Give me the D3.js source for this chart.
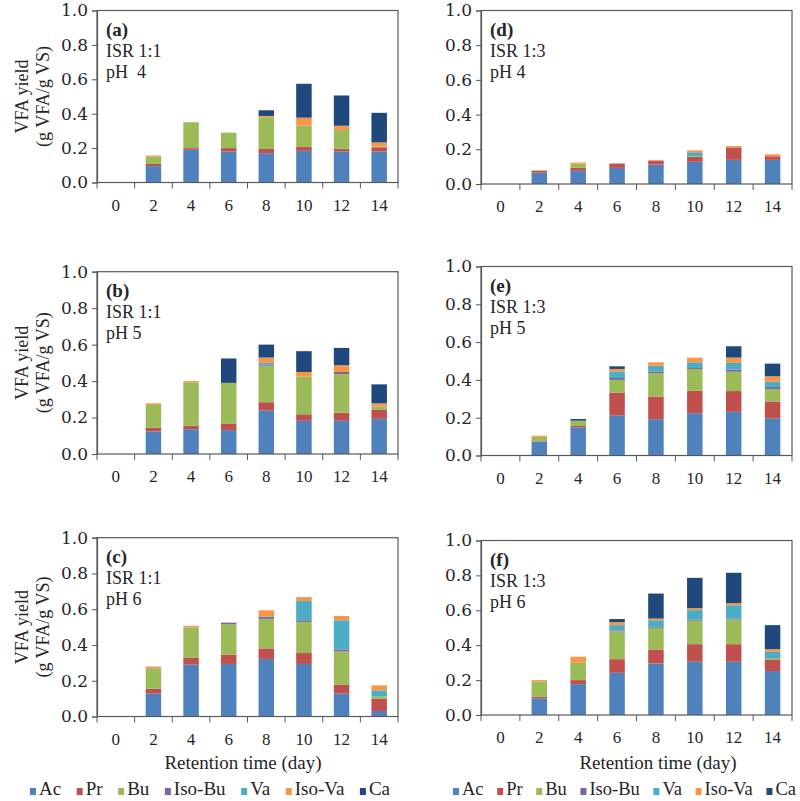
<!DOCTYPE html>
<html><head><meta charset="utf-8">
<script src="https://cdn.jsdelivr.net/npm/d3@7"></script>
<style>body{margin:0;background:#fff}svg{display:block}</style>
</head><body>
<svg id="chart" width="800" height="801"></svg>
<script>
// ---------- data ----------
const days = ["0","2","4","6","8","10","12","14"];
const seriesNames = ["Ac","Pr","Bu","Iso-Bu","Va","Iso-Va","Ca"];
const seriesColors = ["#4F81BD","#C0504D","#9BBB59","#8064A2","#4BACC6","#F79646","#1F497D"];
const yTicks = [0,0.2,0.4,0.6,0.8,1.0];
const panelTags = ["(a)","(b)","(c)","(d)","(e)","(f)"];
const isrLabels = ["ISR 1:1","ISR 1:1","ISR 1:1","ISR 1:3","ISR 1:3","ISR 1:3"];
const phLabels = ["pH  4","pH 5","pH 6","pH 4","pH 5","pH 6"];

// each panel: one row per series (Ac, Pr, Bu, Iso-Bu, Va, Iso-Va, Ca), one value per day
const panelA = [
  [0,0.095,0.19,0.18,0.17,0.184,0.18,0.18],
  [0,0.013,0.01,0.02,0.025,0.023,0.017,0.025],
  [0,0.042,0.15,0.09,0.185,0.123,0.108,0.005],
  [0,0,0,0,0,0,0,0],
  [0,0,0,0,0,0,0,0],
  [0,0.007,0.002,0,0.007,0.047,0.025,0.023],
  [0,0,0,0,0.033,0.197,0.176,0.172]
];
const panelB = [
  [0,0.124,0.136,0.131,0.238,0.182,0.182,0.193],
  [0,0.021,0.019,0.034,0.046,0.036,0.045,0.049],
  [0,0.124,0.238,0.225,0.20,0.206,0.211,0.018],
  [0,0,0,0,0.006,0,0.012,0],
  [0,0,0,0,0.01,0,0,0],
  [0,0.009,0.007,0,0.029,0.026,0.037,0.018],
  [0,0,0,0.134,0.071,0.114,0.095,0.104]
];
const panelC = [
  [0,0.128,0.29,0.294,0.322,0.294,0.128,0.031],
  [0,0.027,0.038,0.052,0.059,0.061,0.051,0.069],
  [0,0.115,0.17,0.17,0.165,0.174,0.185,0.013],
  [0,0,0,0.009,0.011,0.009,0.011,0],
  [0,0,0,0,0.003,0.108,0.163,0.033],
  [0,0.009,0.009,0,0.034,0.022,0.024,0.028],
  [0,0,0,0,0,0,0,0]
];
const panelD = [
  [0,0.065,0.076,0.093,0.112,0.128,0.139,0.139],
  [0,0.011,0.017,0.025,0.023,0.028,0.071,0.021],
  [0,0,0.025,0,0,0.004,0,0],
  [0,0,0,0,0,0,0,0],
  [0,0,0,0,0,0.023,0,0],
  [0,0.003,0.006,0,0.002,0.011,0.009,0.011],
  [0,0,0,0,0,0,0,0]
];
const panelE = [
  [0,0.072,0.149,0.213,0.192,0.224,0.231,0.197],
  [0,0.003,0.007,0.12,0.12,0.118,0.11,0.089],
  [0,0.024,0.028,0.067,0.124,0.116,0.102,0.065],
  [0,0,0,0.01,0.007,0.005,0.011,0.011],
  [0,0,0,0.035,0.032,0.03,0.036,0.028],
  [0,0.006,0,0.013,0.018,0.025,0.028,0.029],
  [0,0,0.009,0.014,0,0,0.06,0.067]
];
const panelF = [
  [0,0.095,0.177,0.242,0.295,0.305,0.305,0.252],
  [0,0.009,0.023,0.078,0.08,0.101,0.101,0.063],
  [0,0.088,0.099,0.16,0.125,0.134,0.141,0.009],
  [0,0,0,0.005,0.005,0.006,0.006,0.002],
  [0,0,0,0.03,0.038,0.055,0.076,0.036],
  [0,0.008,0.035,0.017,0.01,0.011,0.012,0.015],
  [0,0,0,0.018,0.143,0.174,0.174,0.138]
];
const panelData = [panelA, panelB, panelC, panelD, panelE, panelF];

// ---------- layout ----------
const layout = [
  {x0:97,  x1:398, top:10.5, bot:182.5},
  {x0:97,  x1:398, top:271.7,bot:454},
  {x0:97,  x1:398, top:537.7,bot:716.5},
  {x0:481, x1:792, top:10.5, bot:184},
  {x0:481, x1:792, top:266.5,bot:455.5},
  {x0:481, x1:792, top:540.5,bot:715}
];
const serif = "'Liberation Serif', 'Times New Roman', serif";
const lineCol = "#595959";
const textCol = "#262626";
const svg = d3.select("#chart");

panelData.forEach((rows, i) => {
  const L = layout[i];
  const g = svg.append("g");
  const x = d3.scaleBand().domain(days).range([L.x0, L.x1]);
  const y = d3.scaleLinear().domain([0, 1]).range([L.bot, L.top]);

  const table = days.map((d, j) => {
    const o = {day: d};
    seriesNames.forEach((s, k) => o[s] = rows[k][j]);
    return o;
  });
  const stacked = d3.stack().keys(seriesNames)(table);
  const bw = 15.5;

  g.selectAll("g.s").data(stacked).join("g")
    .attr("fill", (d, k) => seriesColors[k])
    .selectAll("rect").data(d => d).join("rect")
    .attr("x", d => x(d.data.day) + (x.bandwidth() - bw) / 2)
    .attr("width", bw)
    .attr("y", d => y(d[1]))
    .attr("height", d => Math.max(0, y(d[0]) - y(d[1])));

  // frame
  g.append("rect").attr("x", L.x0).attr("y", L.top)
    .attr("width", L.x1 - L.x0).attr("height", L.bot - L.top)
    .attr("fill", "none").attr("stroke", lineCol).attr("stroke-width", 1.2);

  // y axis
  const ya = g.append("g").attr("transform", `translate(${L.x0},0)`)
    .call(d3.axisLeft(y).tickValues(yTicks).tickFormat(d3.format(".1f")).tickSize(5).tickPadding(4));
  ya.select(".domain").attr("stroke", lineCol).attr("stroke-width", 1.2);
  ya.selectAll(".tick line").attr("stroke", lineCol);
  ya.selectAll("text").attr("font-family", "'DejaVu Serif', serif").attr("font-size", 17).attr("fill", textCol);

  // x axis: labels centered, ticks at band boundaries
  const xa = g.append("g").attr("transform", `translate(0,${L.bot})`)
    .call(d3.axisBottom(x).tickSize(0).tickPadding(0));
  xa.select(".domain").remove();
  xa.selectAll("text").attr("font-family", serif).attr("font-size", 17)
    .attr("fill", textCol).attr("dy", null).attr("y", 28);
  const bounds = days.map(d => x(d)).concat([L.x1]);
  g.selectAll("line.bt").data(bounds).join("line")
    .attr("x1", d => d).attr("x2", d => d)
    .attr("y1", L.bot).attr("y2", L.bot + 6)
    .attr("stroke", lineCol);

  // panel texts
  const tx = L.x0 + 9;
  g.append("text").attr("x", tx).attr("y", L.top + 25).text(panelTags[i])
    .attr("font-family", serif).attr("font-weight", "bold").attr("font-size", 19).attr("fill", textCol);
  g.append("text").attr("x", tx).attr("y", L.top + 46).text(isrLabels[i])
    .attr("font-family", serif).attr("font-size", 18).attr("fill", textCol).style("white-space", "pre");
  g.append("text").attr("x", tx).attr("y", L.top + 67).text(phLabels[i])
    .attr("font-family", serif).attr("font-size", 18).attr("fill", textCol).style("white-space", "pre");

  // y title for left column
  if (i < 3) {
    const cy = (L.top + L.bot) / 2;
    g.append("text").attr("transform", `translate(22,${cy}) rotate(-90)`)
      .attr("text-anchor", "middle").attr("dominant-baseline", "central")
      .attr("font-family", serif).attr("font-size", 18).attr("fill", textCol)
      .text("VFA yield");
    g.append("text").attr("transform", `translate(43,${cy}) rotate(-90)`)
      .attr("text-anchor", "middle").attr("dominant-baseline", "central")
      .attr("font-family", serif).attr("font-size", 18).attr("fill", textCol)
      .text("(g VFA/g VS)");
  }
});

// x titles
[[243, 768.5], [658, 769]].forEach(p => {
  svg.append("text").attr("x", p[0]).attr("y", p[1]).attr("text-anchor", "middle")
    .attr("font-family", serif).attr("font-size", 19).attr("fill", textCol)
    .text("Retention time (day)");
});

// legends: spread items between a start and an end x
function legend(x0, x1, baseline, fs) {
  const g = svg.append("g");
  const items = g.selectAll("g").data(seriesNames).join("g");
  items.append("rect").attr("width", 6).attr("height", 7).attr("y", -7)
    .attr("fill", (d, k) => seriesColors[k]);
  items.append("text").attr("font-family", serif).attr("font-size", fs)
    .attr("fill", textCol).attr("x", 9).attr("y", 0).text(d => d);
  const widths = [];
  items.each(function() {
    widths.push(9 + d3.select(this).select("text").node().getComputedTextLength());
  });
  const gap = (x1 - x0 - d3.sum(widths)) / (widths.length - 1);
  let pos = x0;
  const xs = widths.map(w => { const p = pos; pos += w + gap; return p; });
  items.attr("transform", (d, k) => `translate(${xs[k]},${baseline})`);
}
legend(30, 390, 795, 19);
legend(453, 796, 795, 18.5);
</script>
</body></html>
